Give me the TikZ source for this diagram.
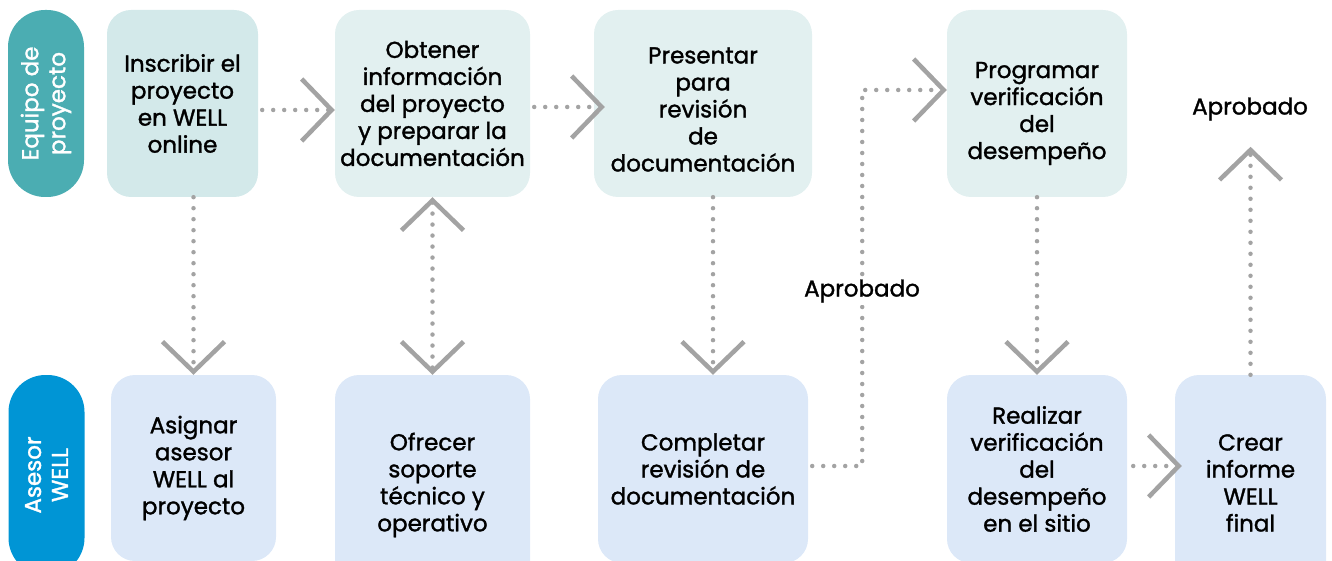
\documentclass[tikz,border=0pt]{standalone}
\usepackage{fontspec}
\setmainfont{Poppins}[FakeBold=1.4]
\usetikzlibrary{arrows.meta,positioning,calc}
\definecolor{teal1}{HTML}{4BADB2}
\definecolor{teal2}{HTML}{D3E9EA}
\definecolor{teal3}{HTML}{E2F0F0}
\definecolor{blue1}{HTML}{0095D5}
\definecolor{blue2}{HTML}{DCE8F8}
\definecolor{grey1}{HTML}{A3A3A3}
\tikzset{
  lane/.style={rounded corners=37pt, rotate=90, minimum height=76pt, text=white, align=center, inner sep=0pt},
  box/.style={rounded corners=24pt, align=center, inner sep=0pt},
  flow/.style={grey1, line width=4.5pt, line cap=round, dash pattern=on 0pt off 11pt,
    -{Straight Barb[length=30pt,width=62pt,line width=4.5pt]}},
  tag/.style={fill=white, inner sep=2pt}
}
\begin{document}
\begin{tikzpicture}[x=1pt,y=-1pt,font=\fontsize{23}{27}\selectfont]
  \clip (0,0) rectangle (1332,561);
  % lanes
  \node[lane, fill=teal1, minimum width=187pt] (laneA) at (46,103.5) {Equipo de\\proyecto};
  \node[lane, fill=blue1, minimum width=200pt] (laneB) at (46.5,475) {Asesor\\WELL};
  % top row: equipo de proyecto
  \node[box, fill=teal2, minimum width=151pt, minimum height=187pt] (p1) at (182.5,103.5) {Inscribir el\\proyecto\\en WELL\\online};
  \node[box, fill=teal3, minimum width=195pt, minimum height=187pt] (p2) at (432.5,103.5) {Obtener\\información\\del proyecto\\y preparar la\\documentación};
  \node[box, fill=teal3, minimum width=218pt, minimum height=187pt,
    label={[align=center, yshift=-6pt]center:{Presentar\\para\\revisión\\de\\documentación}}] (p3) at (703,103.5) {};
  \node[box, fill=teal3, minimum width=180pt, minimum height=187pt,
    label={[align=center, yshift=-10pt]center:{Programar\\verificación\\del\\desempeño}}] (p4) at (1037,103.5) {};
  % bottom row: asesor WELL
  \node[box, fill=blue2, minimum width=165pt, minimum height=186pt] (a1) at (193.5,468) {Asignar\\asesor\\WELL al\\proyecto};
  \node[box, fill=blue2, minimum width=195pt, minimum height=220pt] (a2) at (432.5,485) {Ofrecer\\soporte\\técnico y\\operativo};
  \node[box, fill=blue2, minimum width=210pt, minimum height=188pt] (a3) at (703,469) {Completar\\revisión de\\documentación};
  \node[box, fill=blue2, minimum width=180pt, minimum height=188pt] (a4) at (1037,469) {Realizar\\verificación\\del\\desempeño\\en el sitio};
  \node[box, fill=blue2, minimum width=151pt, minimum height=216pt] (a5) at (1250.5,483) {Crear\\informe\\WELL\\final};
  % connectors
  \draw[flow, shorten <=4pt] ([yshift=-6.5pt]p1.east) -- ([yshift=-6.5pt]p2.west);
  \draw[flow, shorten <=4pt, shorten >=-11pt] ([yshift=-3.5pt]p2.east) -- ([yshift=-3.5pt]p3.west);
  \draw[flow] (a1.north |- p1.south) -- (a1.north);
  \draw[flow, {Straight Barb[length=30pt,width=62pt,line width=4.5pt]}-{Straight Barb[length=30pt,width=62pt,line width=4.5pt]}] (p2.south) -- (a2.north);
  \draw[flow] ([xshift=10pt]p3.south) -- ([xshift=10pt]a3.north);
  \draw[flow] (p4.south) -- (a4.north);
  \draw[flow, shorten <=4pt] ([yshift=3pt]a3.east) -- ++(54,0) |- ([yshift=13.5pt]p4.west);
  \node[tag] (apr1) at (862,291) {Aprobado};
  \draw[flow, shorten <=6pt, shorten >=-7pt] ([yshift=3pt]a4.east) -- ([yshift=3pt]a4.east -| a5.west);
  \draw[flow] (a5.north) -- ++(0,-228);
  \node[tag] (apr2) at (1250,109) {Aprobado};
\end{tikzpicture}
\end{document}
